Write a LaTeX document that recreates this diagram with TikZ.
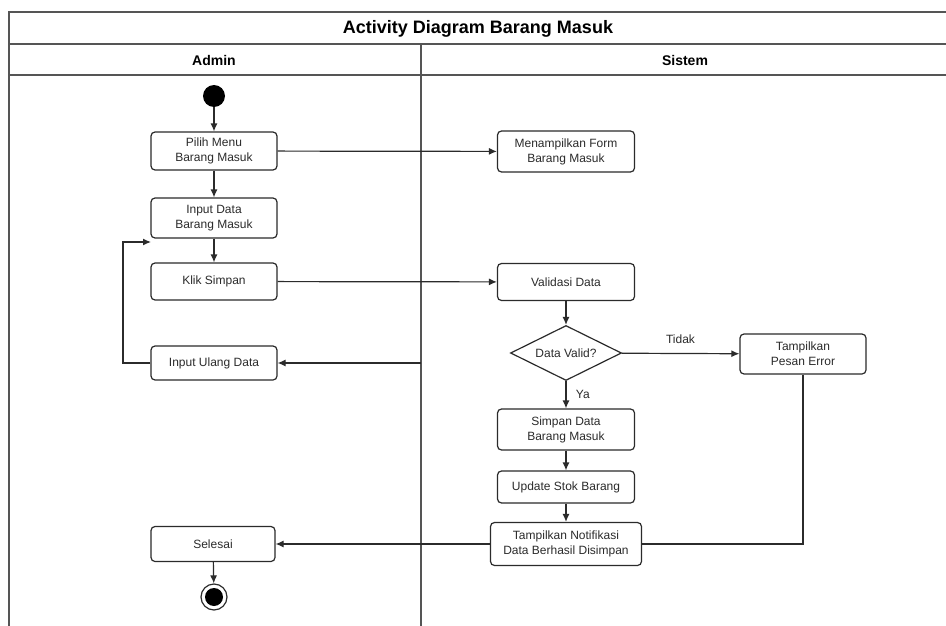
\documentclass[tikz,border=0pt]{standalone}
\usepackage{fontspec}
\setmainfont{Liberation Sans}
\usetikzlibrary{arrows.meta,shapes.geometric}
\definecolor{ink}{HTML}{2B2B2B}
\definecolor{frame}{HTML}{555555}
\tikzset{
  act/.style={draw=ink, line width=1.2pt, rounded corners=4pt, fill=white,
    align=center, inner sep=0pt, font=\fontsize{12}{15}\selectfont, text=ink},
  dec/.style={draw=ink, line width=1.2pt, diamond, aspect=2, fill=white,
    minimum width=111pt, minimum height=55pt, inner sep=0pt,
    font=\fontsize{12}{15}\selectfont, text=ink},
  flow/.style={draw=ink, line width=1.2pt, -{Latex[length=8pt,width=7pt]}},
  plain/.style={draw=ink, line width=1.2pt},
  lane/.style={draw=frame, line width=2pt},
  lbl/.style={font=\fontsize{12}{15}\selectfont, text=ink},
}
\begin{document}
\begin{tikzpicture}[x=1pt,y=-1pt]
\useasboundingbox (0,0) rectangle (946,626);
\fill[white] (0,0) rectangle (946,626);
\clip (0,0) rectangle (946,626);
% frame and lanes
\draw[lane] (9,640) -- (9,12) -- (960,12);
\draw[lane] (9,44) -- (960,44);
\draw[lane] (9,75) -- (960,75);
\draw[lane] (421,44) -- (421,640);
\node[font=\bfseries\fontsize{18}{20}\selectfont, text=black] (title) at (478,29) {Activity Diagram Barang Masuk};
\node[font=\bfseries\fontsize{14}{16}\selectfont, text=black] (hadmin) at (214,60) {Admin};
\node[font=\bfseries\fontsize{14}{16}\selectfont, text=black] (hsistem) at (685,60) {Sistem};
% nodes
\node[circle, fill=black, minimum size=22pt, inner sep=0pt] (start) at (214,96) {};
\node[act, minimum width=126pt, minimum height=38pt] (pilih) at (214,151) {Pilih Menu\\Barang Masuk};
\node[act, minimum width=126pt, minimum height=40pt] (input) at (214,218) {Input Data\\Barang Masuk};
\node[act, minimum width=126pt, minimum height=37pt] (klik) at (214,281.5) {Klik Simpan};
\node[act, minimum width=126pt, minimum height=34pt] (ulang) at (214,363) {Input Ulang Data};
\node[act, minimum width=137pt, minimum height=41pt] (form) at (566,151.5) {Menampilkan Form\\Barang Masuk};
\node[act, minimum width=137pt, minimum height=37pt] (valid) at (566,282) {Validasi Data};
\node[dec] (dv) at (566,353) {Data Valid?};
\node[act, minimum width=126pt, minimum height=40pt] (error) at (803,354) {Tampilkan\\Pesan Error};
\node[act, minimum width=137pt, minimum height=41pt] (simpan) at (566,429.5) {Simpan Data\\Barang Masuk};
\node[act, minimum width=137pt, minimum height=32pt] (update) at (566,487) {Update Stok Barang};
\node[act, minimum width=151pt, minimum height=43pt] (notif) at (566,544) {Tampilkan Notifikasi\\Data Berhasil Disimpan};
\node[act, minimum width=124pt, minimum height=35pt] (selesai) at (213,544) {Selesai};
\node[circle, draw=ink, line width=1.2pt, minimum size=26pt, inner sep=0pt] (end) at (214,597) {};
\node[circle, fill=black, minimum size=18pt, inner sep=0pt] (endin) at (214,597) {};
% helper coordinates
\coordinate (loopin) at (151,242);
\coordinate (loopcorner) at (123,242);
\coordinate (divulang) at (421,363);
% connectors
\draw[flow] (start) -- (pilih);
\draw[flow] (pilih) -- (input);
\draw[flow] (input) -- (klik);
\draw[flow] (pilih) -- (form);
\draw[flow] (klik) -- (valid);
\draw[flow] (valid) -- (dv);
\draw[flow] (dv) -- node[lbl, pos=0.5, above=6pt] (tidak) {Tidak} (error);
\draw[flow] (dv) -- node[lbl, right=6pt, pos=0.5] (ya) {Ya} (simpan);
\draw[flow] (simpan) -- (update);
\draw[flow] (update) -- (notif);
\draw[plain] (error.south) |- (notif.east);
\draw[flow] (notif) -- (selesai);
\draw[flow] (selesai) -- (end);
\draw[flow] (divulang) -- (ulang);
\draw[flow] (ulang.west) -| (loopcorner) -- (loopin);
\end{tikzpicture}
\end{document}
